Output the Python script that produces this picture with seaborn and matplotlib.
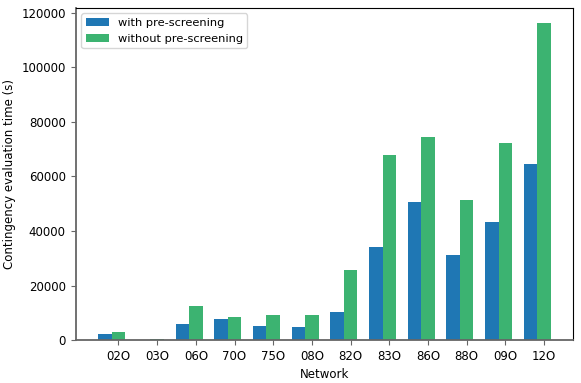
import pandas as pd
import seaborn as sns
import numpy as np
import matplotlib.pyplot as plt

# networks and evaluation times (s)
networks = ['02O', '03O', '06O', '70O', '75O', '08O', '82O', '83O', '86O', '88O', '09O', '12O']
with_pre = [2300, 150, 5900, 7700, 5300, 4800, 10150, 34200, 50600, 31300, 43400, 64700]
without_pre = [3000, 250, 12400, 8500, 9300, 9200, 25800, 67900, 74500, 51500, 72200, 116100]

# long format for seaborn
df = pd.DataFrame({
    'Network': networks * 2,
    'time': with_pre + without_pre,
    'method': ['with pre-screening'] * len(networks) + ['without pre-screening'] * len(networks),
})

plt.rcParams['font.size'] = 8.5

fig, ax = plt.subplots(figsize=(5.81, 3.83), dpi=100)
fig.subplots_adjust(left=0.13, right=0.987, bottom=0.112, top=0.98)

sns.barplot(data=df, x='Network', y='time', hue='method', order=networks,
            palette=['#1f77b4', '#3cb371'], width=0.7, saturation=1,
            edgecolor='none', ax=ax)

# ticks sit under the green bars, like in the original
ax.set_xticks(np.arange(len(networks)) + 0.175)
ax.set_xticklabels(networks)
ax.set_xlim(-0.935, 11.935)
ax.set_ylim(0, max(without_pre) * 1.05)

ax.set_xlabel('Network')
ax.set_ylabel('Contingency evaluation time (s)')

for side in ['left', 'bottom']:
    ax.spines[side].set_color('#666666')
    ax.spines[side].set_linewidth(1.3)
ax.tick_params(colors='#666666', labelcolor='black')

ax.legend(loc='upper left', fontsize=8.2)

plt.savefig('out.png', dpi=100)
